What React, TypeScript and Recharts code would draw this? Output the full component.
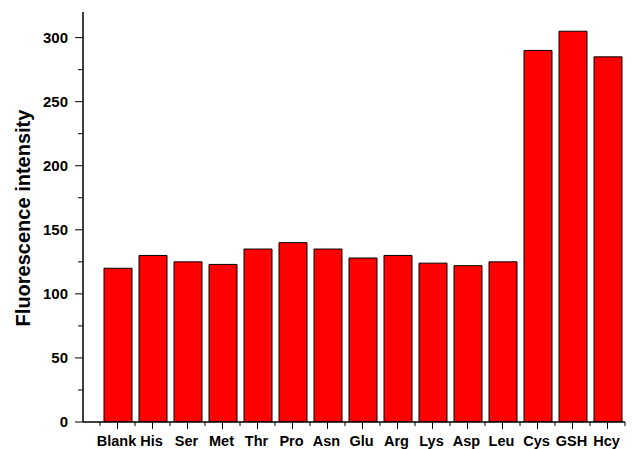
import { BarChart, Bar, XAxis, YAxis } from 'recharts';

const aminoAcids = ['Blank', 'His', 'Ser', 'Met', 'Thr', 'Pro', 'Asn', 'Glu', 'Arg', 'Lys', 'Asp', 'Leu', 'Cys', 'GSH', 'Hcy'];
const intensity = [120, 130, 125, 123, 135, 140, 135, 128, 130, 124, 122, 125, 290, 305, 285];
const yTicks = [0, 25, 50, 75, 100, 125, 150, 175, 200, 225, 250, 275, 300];

const data = aminoAcids.map((name, i) => ({ name, value: intensity[i] }));

const FONT = 'Arial, "Liberation Sans", Helvetica, sans-serif';

// category label with a long tick at the centre and short ticks on the band edges
const XTick = (props: any) => {
  const { x, y, payload, index } = props;
  const half = payload.offset ?? 17.5;
  return (
    <g>
      <line x1={x} y1={y} x2={x} y2={y + 7} stroke="#000" strokeWidth={1} />
      <line x1={x - half} y1={y} x2={x - half} y2={y + 4} stroke="#000" strokeWidth={1} />
      {index === aminoAcids.length - 1 && (
        <line x1={x + half} y1={y} x2={x + half} y2={y + 4} stroke="#000" strokeWidth={1} />
      )}
      <text x={x - 1} y={y + 24} textAnchor="middle" fontFamily={FONT} fontWeight="bold" fontSize={14.5} fill="#000">
        {payload.value}
      </text>
    </g>
  );
};

// every 50 gets a label and a long tick, the in-between values only a short tick
const YTick = (props: any) => {
  const { x, y, payload } = props;
  const major = payload.value % 50 === 0;
  return (
    <g>
      <line x1={x - (major ? 8 : 5)} y1={y} x2={x} y2={y} stroke="#000" strokeWidth={1} />
      {major && (
        <text x={x - 15} y={y} dy="0.36em" textAnchor="end" fontFamily={FONT} fontWeight="bold" fontSize={15} fill="#000">
          {payload.value}
        </text>
      )}
    </g>
  );
};

export default function App() {
  return (
    <div style={{ position: 'absolute', left: 0, top: 0, background: '#fff' }}>
      <BarChart width={641} height={449} data={data} margin={{ top: 12, right: 16, bottom: 0, left: 0 }}>
        <XAxis
          dataKey="name"
          height={27}
          padding={{ left: 17, right: 0 }}
          tickLine={false}
          tickSize={0}
          tickMargin={0}
          interval={0}
          tick={<XTick />}
          axisLine={{ stroke: '#000', strokeWidth: 1.5 }}
        />
        <YAxis
          width={83}
          domain={[0, 320]}
          ticks={yTicks}
          interval={0}
          allowDataOverflow
          tickLine={false}
          tickSize={0}
          tickMargin={0}
          tick={<YTick />}
          axisLine={{ stroke: '#000', strokeWidth: 1.5 }}
          label={{
            content: ({ viewBox }: any) => {
              const cy = viewBox.y + viewBox.height / 2 + 1;
              return (
                <text
                  x={23}
                  y={cy}
                  transform={`rotate(-90, 23, ${cy})`}
                  textAnchor="middle"
                  dominantBaseline="central"
                  fontFamily={FONT}
                  fontWeight="bold"
                  fontSize={20}
                  fill="#000"
                >
                  Fluorescence intensity
                </text>
              );
            },
          }}
        />
        <Bar dataKey="value" fill="#ff0000" stroke="#000" strokeWidth={1} barSize={28} isAnimationActive={false} />
      </BarChart>
    </div>
  );
}
